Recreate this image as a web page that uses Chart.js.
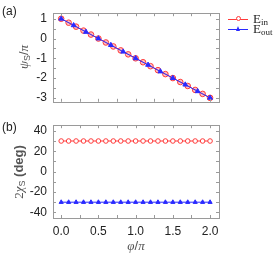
<!DOCTYPE html>
<html>
<head>
<meta charset="utf-8">
<script src="https://cdn.jsdelivr.net/npm/chart.js@4.4.1/dist/chart.umd.min.js"></script>
<style>
    body { margin: 0; background: #fff; width: 279px; height: 255px; overflow: hidden; position: relative; font-family: 'Liberation Sans', Arial, sans-serif; }
    canvas { position: absolute; left: 0; }
    .lbl { position: absolute; white-space: nowrap; color: #222; line-height: 1; }
    .rot { transform: translate(-50%, -50%) rotate(-90deg); color: #555; }
    .ser { font-family: 'Liberation Serif', 'DejaVu Serif', serif; font-style: italic; }
    sub { font-size: 9px; vertical-align: -2px; line-height: 0; }
    .leg-row { position: absolute; left: 228px; height: 10px; width: 51px; }
    .leg-line { position: absolute; left: 0; top: 4.5px; width: 20px; height: 1px; }
    .leg-mark { position: absolute; left: 8px; top: 2px; }
    .leg-text { position: absolute; left: 25px; top: -3px; font-family: 'Liberation Serif', 'DejaVu Serif', serif; font-size: 13px; color: #222; }
    .leg-text sub { font-size: 9px; vertical-align: -2px; }
</style>
</head>
<body>
<canvas id="psiChart" width="279" height="115" style="top:0"></canvas>
<canvas id="chiChart" width="279" height="143" style="top:112px"></canvas>

<div class="lbl" style="left:2px;top:5px;font-size:12px">(a)</div>
<div class="lbl" style="left:2px;top:121px;font-size:12px">(b)</div>
<div class="lbl rot" style="left:23px;top:57px;font-size:13px"><span class="ser">ψ</span><sub>S</sub>/<span class="ser">π</span></div>
<div class="lbl rot" style="left:18px;top:172px;font-size:13px"><span style="font-family:'Liberation Serif',serif">2</span><span class="ser">χ</span><sub>S</sub> <b style="font-weight:600">(deg)</b></div>
<div class="lbl" style="left:136px;top:245px;transform:translate(-50%,-50%);font-size:13px;color:#555"><span class="ser">φ</span>/<span class="ser">π</span></div>
<div id="legend"></div>

<script>
    // phi / pi sample positions (0.1 spacing)
    const phiSteps = [0, 0.1, 0.2, 0.3, 0.4, 0.5, 0.6, 0.7, 0.8, 0.9, 1.0, 1.1, 1.2, 1.3, 1.4, 1.5, 1.6, 1.7, 1.8, 1.9, 2.0];
    // coarser positions used for E_out in panel (a)
    const phiOutSteps = [0, 0.167, 0.333, 0.5, 0.667, 0.833, 1.0, 1.167, 1.333, 1.5, 1.667, 1.833, 2.0];

    // panel (a): psi_S / pi
    const psiIn = [1, 0.8, 0.6, 0.4, 0.2, 0, -0.2, -0.4, -0.6, -0.8, -1, -1.2, -1.4, -1.6, -1.8, -2, -2.2, -2.4, -2.6, -2.8, -3];
    const psiOut = [1, 0.667, 0.333, 0, -0.333, -0.667, -1, -1.333, -1.667, -2, -2.333, -2.667, -3];

    // panel (b): 2 chi_S in degrees
    const chiIn = [30, 30, 30, 30, 30, 30, 30, 30, 30, 30, 30, 30, 30, 30, 30, 30, 30, 30, 30, 30, 30];
    const chiOut = [-30, -30, -30, -30, -30, -30, -30, -30, -30, -30, -30, -30, -30, -30, -30, -30, -30, -30, -30, -30, -30];

    const seriesNames = [['E', 'in'], ['E', 'out']];
    const redColor = '#ff3b3b';
    const blueColor = '#2a2aff';
    const frameColor = '#9a9a9a';

    Chart.defaults.font.family = "'Liberation Sans', Arial, sans-serif";
    Chart.defaults.font.size = 11;
    Chart.defaults.color = '#222';

    const toPts = (xs, ys) => xs.map((x, i) => ({ x: x, y: ys[i] }));
    const isMult = (v, step) => Math.abs(v / step - Math.round(v / step)) < 1e-6;

    // inward tick marks on all four sides, mirrored like a gnuplot frame
    const innerTicks = {
        id: 'innerTicks',
        afterDraw(chart) {
            const { ctx, chartArea: a, scales } = chart;
            ctx.save();
            ctx.strokeStyle = frameColor;
            ctx.lineWidth = 1;
            ctx.beginPath();
            scales.x.ticks.forEach(t => {
                const px = Math.round(scales.x.getPixelForValue(t.value)) + 0.5;
                ctx.moveTo(px, a.bottom); ctx.lineTo(px, a.bottom - 3);
                ctx.moveTo(px, a.top); ctx.lineTo(px, a.top + 3);
            });
            scales.y.ticks.forEach(t => {
                const py = Math.round(scales.y.getPixelForValue(t.value)) + 0.5;
                ctx.moveTo(a.left, py); ctx.lineTo(a.left + 3, py);
                ctx.moveTo(a.right, py); ctx.lineTo(a.right - 3, py);
            });
            ctx.stroke();
            ctx.strokeRect(Math.round(a.left) + 0.5, Math.round(a.top) + 0.5, Math.round(a.right - a.left), Math.round(a.bottom - a.top));
            ctx.restore();
        }
    };

    function makeChart(canvasId, datasets, yOpts, xLabels, bottomH, topPad) {
        return new Chart(document.getElementById(canvasId), {
            type: 'line',
            data: { datasets: datasets },
            options: {
                responsive: false,
                animation: false,
                layout: { padding: { left: 0, right: 60, top: topPad, bottom: 0 } },
                plugins: { legend: { display: false }, tooltip: { enabled: false } },
                scales: {
                    x: {
                        type: 'linear',
                        min: -0.11,
                        max: 2.12,
                        grid: { display: false, drawTicks: false },
                        border: { display: false },
                        ticks: {
                            display: xLabels,
                            stepSize: 0.25,
                            includeBounds: false,
                            autoSkip: false,
                            maxRotation: 0,
                            padding: 6,
                            font: { size: 12 },
                            callback: v => isMult(v, 0.5) ? v.toFixed(1) : ''
                        },
                        afterFit: s => { s.height = bottomH; }
                    },
                    y: Object.assign({
                        grid: { display: false, drawTicks: false },
                        border: { display: false },
                        afterFit: s => { s.width = 53; }
                    }, yOpts)
                }
            },
            plugins: [innerTicks]
        });
    }

    const psiChart = makeChart('psiChart', [
        {
            label: 'E_in', data: toPts(phiSteps, psiIn), order: 2,
            borderColor: redColor, borderWidth: 1,
            pointStyle: 'circle', pointRadius: 2.8, pointBorderWidth: 1,
            pointBorderColor: redColor, pointBackgroundColor: 'rgba(255,150,150,0.6)'
        },
        {
            label: 'E_out', data: toPts(phiOutSteps, psiOut), order: 1,
            borderColor: blueColor, borderWidth: 1,
            pointStyle: 'triangle', pointRadius: 2.8, pointBorderWidth: 1,
            pointBorderColor: blueColor, pointBackgroundColor: blueColor
        }
    ], {
        min: -3.2,
        max: 1.28,
        ticks: {
            stepSize: 0.5, includeBounds: false, autoSkip: false, padding: 6,
            font: { size: 12 },
            callback: v => isMult(v, 1) ? String(Math.round(v)) : ''
        }
    }, false, 7, 9);

    makeChart('chiChart', [
        {
            label: 'E_in', data: toPts(phiSteps, chiIn),
            borderColor: redColor, borderWidth: 1,
            pointStyle: 'circle', pointRadius: 2.3, pointBorderWidth: 1,
            pointBorderColor: redColor, pointBackgroundColor: '#fff'
        },
        {
            label: 'E_out', data: toPts(phiSteps, chiOut),
            borderColor: blueColor, borderWidth: 1,
            pointStyle: 'triangle', pointRadius: 2.4, pointBorderWidth: 1,
            pointBorderColor: blueColor, pointBackgroundColor: blueColor
        }
    ], {
        min: -45.5,
        max: 45.5,
        ticks: {
            stepSize: 10, includeBounds: false, autoSkip: false, padding: 6,
            font: { size: 12 },
            callback: v => isMult(v, 20) ? String(Math.round(v)) : ''
        }
    }, true, 37, 7);

    // HTML legend built from the panel (a) datasets so the subscripts stay real text
    const legend = document.getElementById('legend');
    psiChart.data.datasets.forEach((ds, i) => {
        const row = document.createElement('div');
        row.className = 'leg-row';
        row.style.top = (14 + i * 10) + 'px';
        const line = document.createElement('span');
        line.className = 'leg-line';
        line.style.background = ds.borderColor;
        const mark = document.createElement('span');
        mark.className = 'leg-mark';
        if (ds.pointStyle === 'circle') {
            mark.style.cssText = `width:3px;height:3px;border:1px solid ${ds.borderColor};border-radius:50%;background:#fff;`;
        } else {
            mark.style.cssText = `width:0;height:0;border-left:2.5px solid transparent;border-right:2.5px solid transparent;border-bottom:5px solid ${ds.borderColor};left:7.5px;top:2px;`;
        }
        const text = document.createElement('span');
        text.className = 'leg-text';
        text.innerHTML = `${seriesNames[i][0]}<sub>${seriesNames[i][1]}</sub>`;
        row.append(line, mark, text);
        legend.appendChild(row);
    });
</script>
</body>
</html>
